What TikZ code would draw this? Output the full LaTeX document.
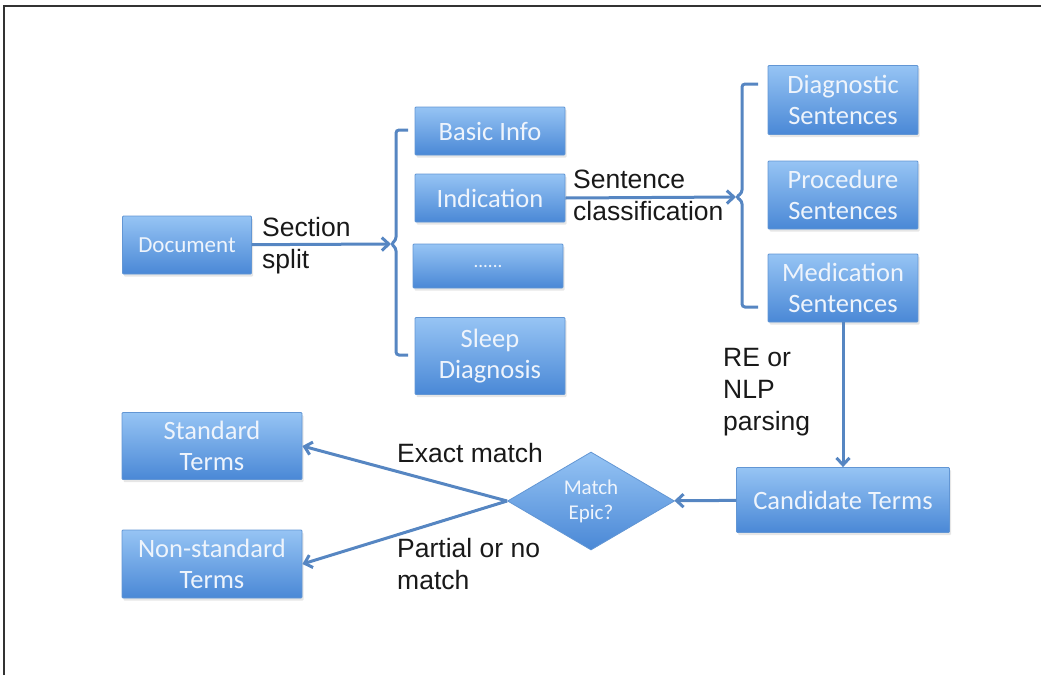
\documentclass[tikz,border=0pt]{standalone}
\usepackage{fontspec}
\setmainfont{Liberation Sans}
\newfontfamily\boxfont{Carlito}
\usepackage{tikz}
\usetikzlibrary{positioning,shapes.geometric,arrows.meta,shadows}
\definecolor{boxtop}{RGB}{150,196,244}
\definecolor{boxbot}{RGB}{74,136,214}
\definecolor{boxline}{RGB}{98,150,212}
\definecolor{flow}{RGB}{86,134,194}
\definecolor{boxtext}{RGB}{238,244,252}

\begin{document}
\begin{tikzpicture}[x=1pt,y=1pt,inner sep=0pt]
\tikzstyle{main}=[rectangle, rounded corners=1pt, draw=boxline, thick, top color=boxtop, bottom color=boxbot, text=boxtext, align=center, font=\boxfont\fontsize{26.5}{31}\selectfont, minimum width=150pt, minimum height=48pt, drop shadow={opacity=0.2,shadow xshift=1.5pt,shadow yshift=-2.5pt}]
\tikzstyle{decide}=[diamond, draw=boxline, thick, top color=boxtop, bottom color=boxbot, text=boxtext, align=center, font=\boxfont\fontsize{21}{25}\selectfont, minimum width=167pt, minimum height=98pt]
\tikzstyle{connect}=[-{Straight Barb[length=7pt,width=13pt]}, line width=3pt, draw=flow]
\tikzstyle{brace}=[line width=3pt, draw=flow, rounded corners=3pt]
\tikzstyle{lbl}=[anchor=north west, align=left, text=black!90, font=\fontsize{26.5}{32}\selectfont]
\useasboundingbox (0,0) rectangle (1041,-675);
\draw[gray!40!black, line width=1.2pt] (4,-675) -- (4,-6) -- (1041,-6);
% boxes
\node[main, minimum width=129pt, minimum height=58pt, font=\boxfont\fontsize{23}{28}\selectfont] (doc) at (187,-245) {Document};
\node[main] (basic) at (490,-131) {Basic Info};
\node[main] (ind) at (490,-198) {Indication};
\node[main, minimum height=44pt, font=\boxfont\fontsize{19}{20}\selectfont] (dots) at (488,-266) {......};
\node[main, minimum height=77pt] (sleep) at (490,-356) {Sleep\\Diagnosis};
\node[main, minimum height=69pt] (diag) at (843,-100) {Diagnostic\\Sentences};
\node[main, minimum height=68pt] (proc) at (843,-195) {Procedure\\Sentences};
\node[main, minimum height=68pt] (med) at (843,-288) {Medication\\Sentences};
\node[main, minimum width=213pt, minimum height=65pt] (cand) at (843,-500) {Candidate Terms};
\node[decide] (match) at (591,-501) {Match\\Epic?};
\node[main, minimum width=180pt, minimum height=67pt] (std) at (212,-446) {Standard\\Terms};
\node[main, minimum width=180pt, minimum height=68pt] (nonstd) at (212,-564) {Non-standard\\Terms};
% brackets
\coordinate (secnub) at (391,-244);
\coordinate (sentnub) at (736,-197);
\draw[brace] (408,-130) -- (396,-130) -- (396,-240) -- (391,-244) -- (396,-248) -- (396,-355) -- (408,-355);
\draw[brace] (758,-84) -- (742,-84) -- (742,-193) -- (736,-197) -- (742,-201) -- (742,-307) -- (758,-307);
% connectors
\path (doc) edge[connect] (secnub);
\path (ind.east) edge[connect] (sentnub);
\path (med) edge[connect] (cand);
\path (cand) edge[connect] (match);
\path (match.west) edge[connect] (std.east) edge[connect] (nonstd.east);
% labels
\node[lbl] (secsplit) at (262,-217) {Section\\split};
\node[lbl] (sentcls) at (573,-170) {Sentence\\classification};
\node[lbl] (parse) at (723,-348) {RE or\\NLP\\parsing};
\node[lbl] (exact) at (397,-443) {Exact match};
\node[lbl] (partial) at (397,-538) {Partial or no\\match};
\end{tikzpicture}
\end{document}
